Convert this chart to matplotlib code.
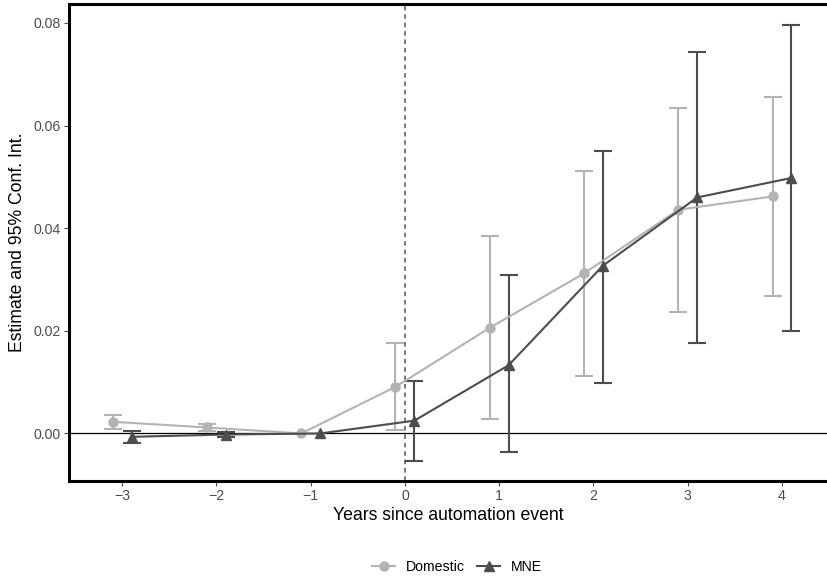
import numpy as np
import matplotlib
matplotlib.use("Agg")
import matplotlib.pyplot as plt

plt.rcParams['font.family'] = ['Liberation Sans', 'DejaVu Sans']

years = [-3, -2, -1, 0, 1, 2, 3, 4]

dom_est = [0.00228, 0.00117, 0.0, 0.00909, 0.0206, 0.0312, 0.0436, 0.0462]
dom_lo = [0.00097, 0.0005, 0.0, 0.00065, 0.0028, 0.0112, 0.0237, 0.0267]
dom_hi = [0.00364, 0.0018, 0.0, 0.01756, 0.0385, 0.0512, 0.0634, 0.0656]

mne_est = [-0.00065, -0.0002, 0.0, 0.0025, 0.0133, 0.0327, 0.0460, 0.0498]
mne_lo = [-0.00176, -0.00065, 0.0, -0.00534, -0.0037, 0.00976, 0.0177, 0.0200]
mne_hi = [0.0005, 0.0003, 0.0, 0.0102, 0.0309, 0.0551, 0.0743, 0.0797]

dom_col = '#B3B3B3'
mne_col = '#4D4D4D'

fig = plt.figure(figsize=(8.27, 5.81), dpi=100)
ax = fig.add_axes([69 / 827, 1 - 481 / 581, 1 - 69 / 827, (481 - 4) / 581])

ax.axhline(0, color='black', lw=0.9, zorder=1)
ax.axvline(0, color='#555555', lw=1.1, ls=(0, (3, 2.5)), zorder=1)


def draw(x, est, lo, hi, col, marker, label, ms):
    x = np.asarray(x, dtype=float)
    est = np.asarray(est)
    lo = np.asarray(lo)
    hi = np.asarray(hi)
    # no bar where the interval is zero (reference year)
    has_ci = hi - lo > 0
    ax.errorbar(x[has_ci], est[has_ci],
                yerr=[est[has_ci] - lo[has_ci], hi[has_ci] - est[has_ci]],
                fmt='none', ecolor=col, elinewidth=1.5, capsize=6.8,
                capthick=1.5, zorder=2)
    line, = ax.plot(x, est, color=col, lw=1.5, marker=marker, ms=ms,
                    mec=col, mfc=col, label=label, zorder=3)
    return line


h1 = draw(np.array(years) - 0.1, dom_est, dom_lo, dom_hi, dom_col, 'o', 'Domestic', 6.5)
h2 = draw(np.array(years) + 0.1, mne_est, mne_lo, mne_hi, mne_col, '^', 'MNE', 7.5)

ax.set_xlim(-3.563, 4.477)
ax.set_ylim(-0.00926, 0.0837)
ax.set_xticks(years)
ax.set_xticklabels(['\u22123', '\u22122', '\u22121', '0', '1', '2', '3', '4'])
ax.set_yticks([0.0, 0.02, 0.04, 0.06, 0.08])
ax.set_yticklabels(['0.00', '0.02', '0.04', '0.06', '0.08'])
ax.tick_params(colors='#4D4D4D', labelsize=10.2, length=3.5, width=0.8,
               labelcolor='#4D4D4D', pad=2.5)

for side in ['left', 'top', 'bottom']:
    ax.spines[side].set_linewidth(2.2)
    ax.spines[side].set_color('black')
ax.spines['right'].set_visible(False)

ax.set_xlabel('Years since automation event', fontsize=12.7, labelpad=3)
ax.set_ylabel('Estimate and 95% Conf. Int.', fontsize=12.7, labelpad=5)

fig.legend(handles=[h1, h2], loc='center', bbox_to_anchor=(0.553, 0.024),
           ncol=2, frameon=False, fontsize=10.2, handlelength=1.6,
           columnspacing=0.85, handletextpad=0.8)

fig.savefig('out.png', dpi=100)
